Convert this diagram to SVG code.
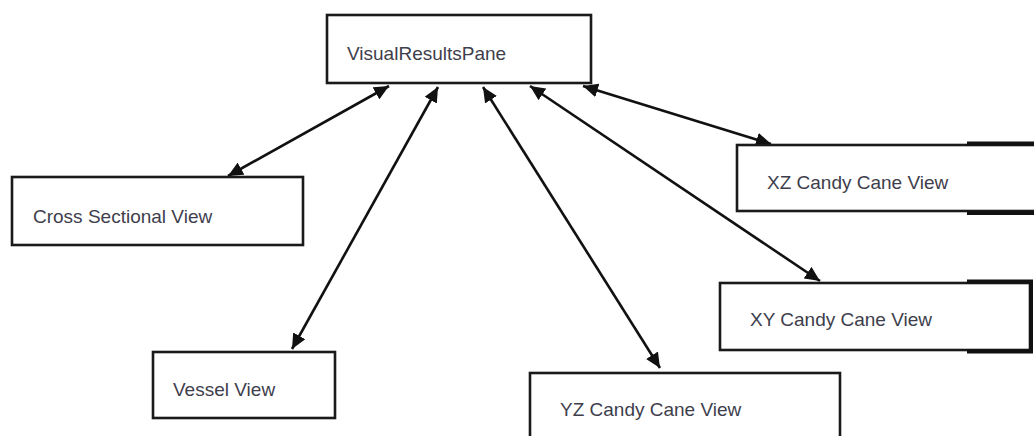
<svg xmlns="http://www.w3.org/2000/svg" width="1034" height="436" viewBox="0 0 1034 436">
  <style>
    .box { fill: #ffffff; stroke: #1a1a1a; stroke-width: 2.6; }
    .thick { fill: none; stroke: #111111; stroke-width: 4; }
    .lbl { font-family: "Liberation Sans", Arial, sans-serif; font-size: 19px; fill: #3e3e4c; }
    .conn { stroke: #111111; stroke-width: 2.6; fill: none; marker-start: url(#ah); marker-end: url(#ah); }
  </style>
  <defs>
    <marker id="ah" markerUnits="userSpaceOnUse" markerWidth="16" markerHeight="14" refX="15" refY="7" orient="auto-start-reverse">
      <path d="M0,0 L15,7 L0,14 z" fill="#111111"/>
    </marker>
  </defs>
  <rect width="1034" height="436" fill="#ffffff"/>

  <g id="connectors">
    <line class="conn" x1="228" y1="176" x2="389" y2="86"/>
    <line class="conn" x1="292" y1="349" x2="438" y2="87"/>
    <line class="conn" x1="660" y1="368" x2="483" y2="87"/>
    <line class="conn" x1="820" y1="281" x2="530" y2="86"/>
    <line class="conn" x1="771" y1="144" x2="583" y2="86"/>
  </g>

  <g id="node-visualresultspane">
    <rect class="box" x="327" y="15" width="264" height="68"/>
    <text class="lbl" x="347" y="60">VisualResultsPane</text>
  </g>

  <g id="node-cross-sectional-view">
    <rect class="box" x="12" y="177" width="291" height="68"/>
    <text class="lbl" x="33" y="223">Cross Sectional View</text>
  </g>

  <g id="node-xz-candy-cane-view">
    <rect class="box" x="737" y="145" width="310" height="66"/>
    <path class="thick" d="M967,143.5 H1034 M967,213 H1034"/>
    <text class="lbl" x="767" y="189">XZ Candy Cane View</text>
  </g>

  <g id="node-xy-candy-cane-view">
    <rect class="box" x="720" y="283" width="310" height="67"/>
    <path class="thick" d="M967,281.5 H1031 V351.5 H967"/>
    <text class="lbl" x="750" y="326">XY Candy Cane View</text>
  </g>

  <g id="node-vessel-view">
    <rect class="box" x="153" y="352" width="182" height="66"/>
    <text class="lbl" x="173" y="396">Vessel View</text>
  </g>

  <g id="node-yz-candy-cane-view">
    <rect class="box" x="530" y="373" width="310" height="80"/>
    <text class="lbl" x="560" y="416">YZ Candy Cane View</text>
  </g>
</svg>
